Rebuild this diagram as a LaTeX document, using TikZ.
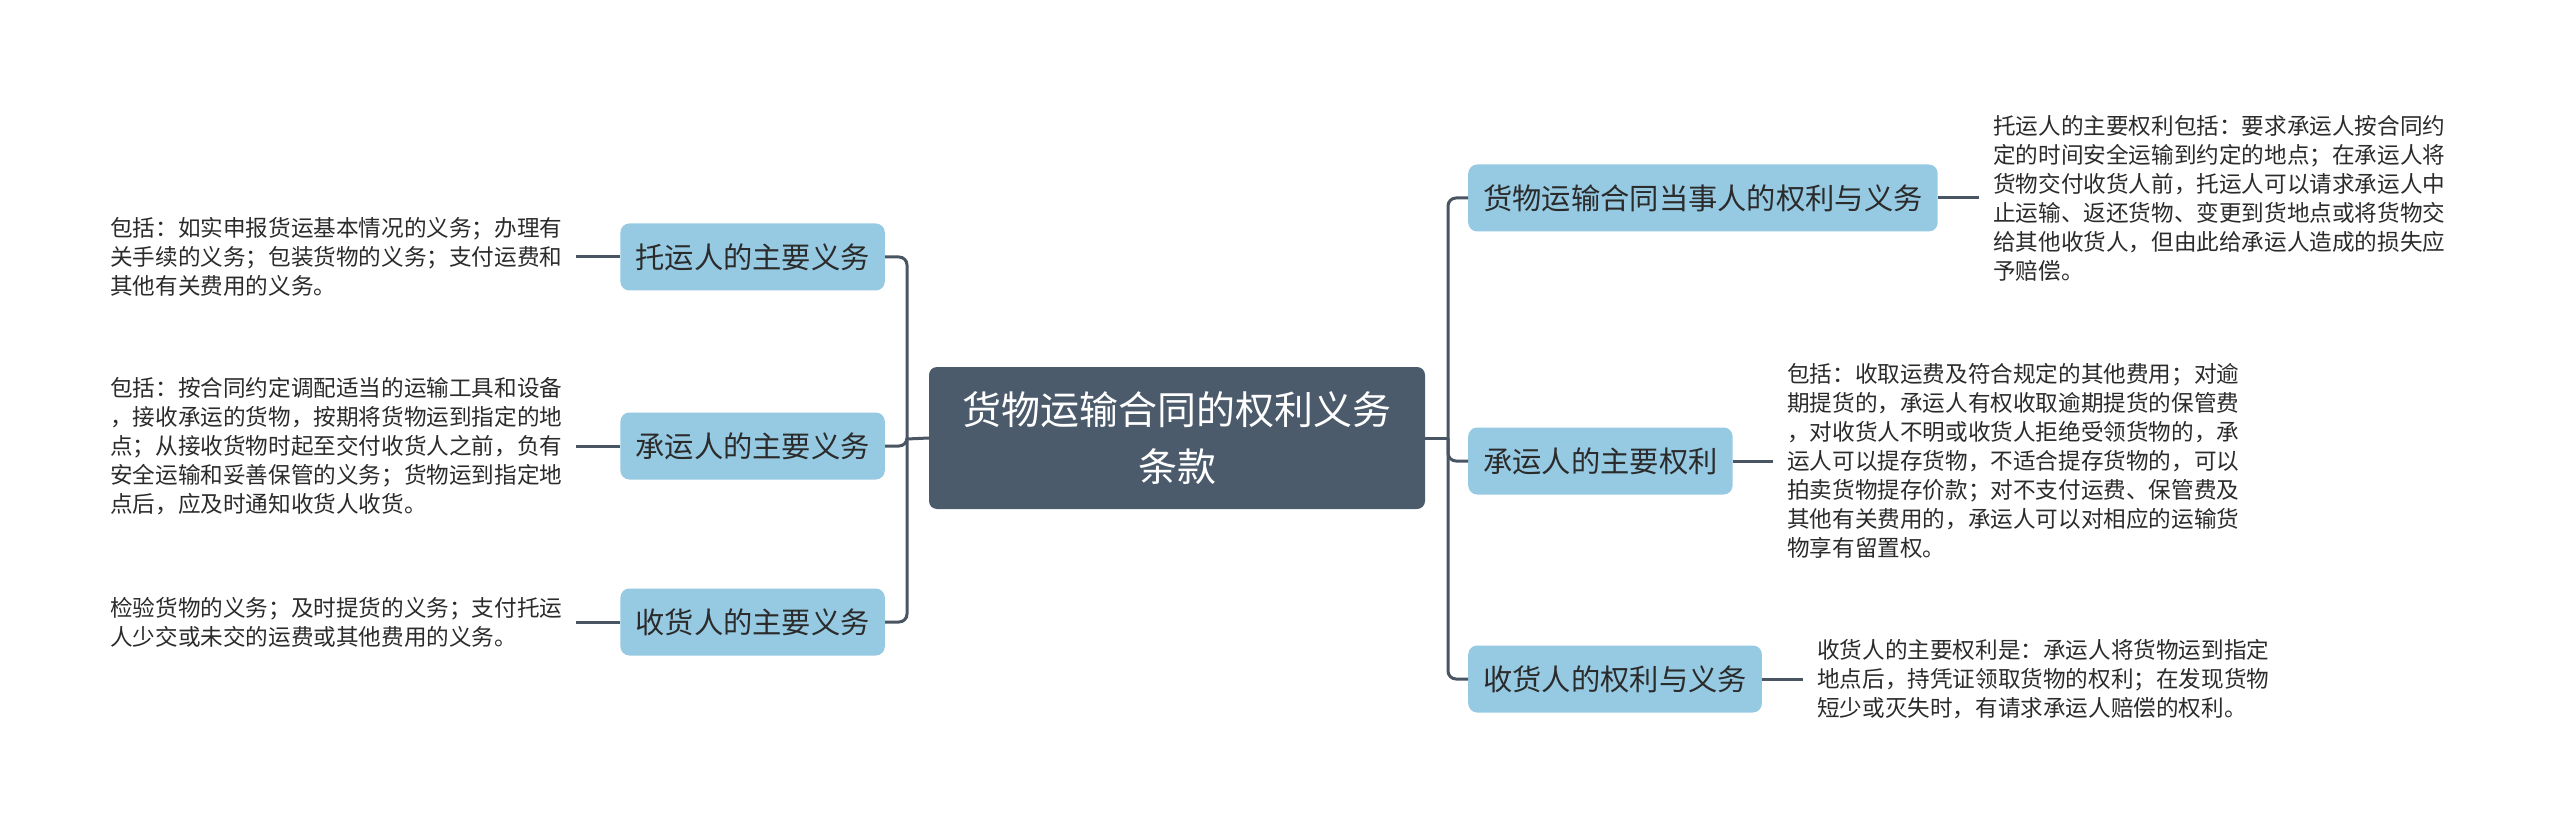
\documentclass[tikz,border=0pt]{standalone}
\usepackage{fontspec}
\setmainfont{Noto Sans CJK SC}
\definecolor{boxblue}{HTML}{96CAE3}
\definecolor{rootfill}{HTML}{4B5B6B}
\definecolor{linec}{HTML}{4A5563}
\definecolor{txt}{HTML}{2B2B2B}
\tikzset{
  conn/.style={draw=linec, line width=3pt, rounded corners=8pt},
  rootbox/.style={fill=rootfill, rounded corners=8pt, text=white, align=center,
    minimum width=496pt, minimum height=142pt, inner sep=0pt,
    font=\fontsize{39}{57}\selectfont},
  topicbox/.style={fill=boxblue, rounded corners=9pt, text=txt, inner xsep=15pt,
    inner ysep=0pt, minimum height=67pt, font=\fontsize{29.3}{35}\selectfont},
  desc/.style={text=txt, align=left, inner xsep=14pt, inner ysep=0pt,
    font=\fontsize{22.6}{29}\selectfont}
}
\begin{document}
\begin{tikzpicture}[x=1pt,y=-1pt]
\useasboundingbox[fill=white] (0,0) rectangle (2560,834);
% root
\node[rootbox] (root) at (1177,438) {货物运输合同的权利义务\\条款};
% left trunk & right trunk
\coordinate (lt) at (907,439);
\coordinate (rt) at (1448,438);
% left topics
\node[topicbox, anchor=east] (l1) at (885,257) {托运人的主要义务};
\node[topicbox, anchor=east] (l2) at (885,446) {承运人的主要义务};
\node[topicbox, anchor=east] (l3) at (885,622) {收货人的主要义务};
% right topics
\node[topicbox, anchor=west] (r1) at (1468,198) {货物运输合同当事人的权利与义务};
\node[topicbox, anchor=west] (r2) at (1468,461) {承运人的主要权利};
\node[topicbox, anchor=west] (r3) at (1468,679) {收货人的权利与义务};
% left descriptions
\node[desc, anchor=west] (d1) at (96,257) {包括：如实申报货运基本情况的义务；办理有\\关手续的义务；包装货物的义务；支付运费和\\其他有关费用的义务。};
\node[desc, anchor=west] (d2) at (96,446) {包括：按合同约定调配适当的运输工具和设备\\，接收承运的货物，按期将货物运到指定的地\\点；从接收货物时起至交付收货人之前，负有\\安全运输和妥善保管的义务；货物运到指定地\\点后，应及时通知收货人收货。};
\node[desc, anchor=west] (d3) at (96,622) {检验货物的义务；及时提货的义务；支付托运\\人少交或未交的运费或其他费用的义务。};
% right descriptions
\node[desc, anchor=west] (e1) at (1979,198) {托运人的主要权利包括：要求承运人按合同约\\定的时间安全运输到约定的地点；在承运人将\\货物交付收货人前，托运人可以请求承运人中\\止运输、返还货物、变更到货地点或将货物交\\给其他收货人，但由此给承运人造成的损失应\\予赔偿。};
\node[desc, anchor=west] (e2) at (1773,461) {包括：收取运费及符合规定的其他费用；对逾\\期提货的，承运人有权收取逾期提货的保管费\\，对收货人不明或收货人拒绝受领货物的，承\\运人可以提存货物，不适合提存货物的，可以\\拍卖货物提存价款；对不支付运费、保管费及\\其他有关费用的，承运人可以对相应的运输货\\物享有留置权。};
\node[desc, anchor=west] (e3) at (1803,679) {收货人的主要权利是：承运人将货物运到指定\\地点后，持凭证领取货物的权利；在发现货物\\短少或灭失时，有请求承运人赔偿的权利。};
% connectors
\draw[conn] (root.west) -- (lt);
\draw[conn] (lt) |- (l1.east);
\draw[conn] (lt) |- (l2.east);
\draw[conn] (lt) |- (l3.east);
\draw[conn] (root.east) -- (rt);
\draw[conn] (rt) |- (r1.west);
\draw[conn] (rt) |- (r2.west);
\draw[conn] (rt) |- (r3.west);
\draw[conn] (d1.east) -- (l1.west);
\draw[conn] (d2.east) -- (l2.west);
\draw[conn] (d3.east) -- (l3.west);
\draw[conn] (r1.east) -- (e1.west);
\draw[conn] (r2.east) -- (e2.west);
\draw[conn] (r3.east) -- (e3.west);
\end{tikzpicture}
\end{document}
